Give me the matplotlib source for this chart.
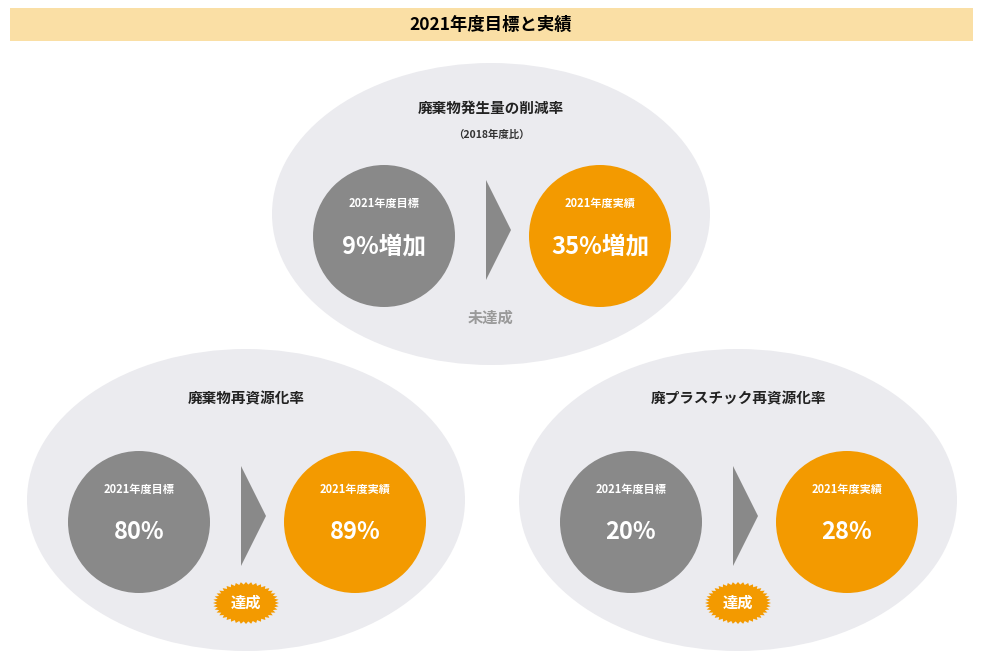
import numpy as np
import matplotlib
matplotlib.use("Agg")
import matplotlib.pyplot as plt
from matplotlib.patches import Ellipse, Circle, Rectangle, Polygon

FONT = "Noto Sans CJK JP"
title = "2021年度目標と実績"
panel_titles = ["廃棄物発生量の削減率", "廃棄物再資源化率", "廃プラスチック再資源化率"]
panel_sub = ["（2018年度比）", "", ""]
targets = ["9%増加", "80%", "20%"]
results = ["35%増加", "89%", "28%"]
status = ["未達成", "達成", "達成"]
label_target = "2021年度目標"
label_result = "2021年度実績"

GRAY = "#898989"
ORANGE = "#F39A00"
BG = "#EBEBEF"

fig = plt.figure(figsize=(9.82, 6.62), dpi=100)
ax = fig.add_axes([0, 0, 1, 1])
ax.set_xlim(0, 982); ax.set_ylim(662, 0); ax.axis("off")

ax.add_patch(Rectangle((10, 8), 963, 33, color="#FADFA5", lw=0))
ax.text(491, 25, title, ha="center", va="center", fontsize=12.5, fontweight="bold", family=FONT)

centers = [(491, 214), (246, 500), (738, 500)]
for i, (cx, cy) in enumerate(centers):
    ax.add_patch(Ellipse((cx, cy), 438, 302, color=BG, lw=0))
    ty = cy - 104
    if panel_sub[i]:
        ty = cy - 106
        ax.text(cx, cy - 79, panel_sub[i], ha="center", va="center", fontsize=7.5, fontweight="bold", family=FONT, color="#333")
    else:
        ty = cy - 102
    ax.text(cx, ty, panel_titles[i], ha="center", va="center", fontsize=10.5, fontweight="bold", family=FONT, color="#222")
    ccy = cy + 22
    for dx, col, lab, val in [(-107, GRAY, label_target, targets[i]), (109, ORANGE, label_result, results[i])]:
        ax.add_patch(Circle((cx + dx, ccy), 71, color=col, lw=0))
        ax.text(cx + dx, ccy - 33, lab, ha="center", va="center", fontsize=8, fontweight="bold", family=FONT, color="white")
        ax.text(cx + dx, ccy + 10, val, ha="center", va="center", fontsize=17, fontweight="bold", family=FONT, color="white")
    ax.add_patch(Polygon([(cx - 5, ccy - 56), (cx + 20, ccy - 6), (cx - 5, ccy + 44)], color=GRAY, lw=0))
    if status[i] == "未達成":
        ax.text(cx, cy + 104, status[i], ha="center", va="center", fontsize=11, fontweight="bold", family=FONT, color="#9a9a9a")
    else:
        bx, by = cx, cy + 103
        n = 40
        ang = np.linspace(0, 2 * np.pi, 2 * n, endpoint=False)
        r = np.where(np.arange(2 * n) % 2 == 0, 1.0, 0.88)
        pts = np.column_stack([bx + 33 * r * np.cos(ang), by + 21 * r * np.sin(ang)])
        ax.add_patch(Polygon(pts, color=ORANGE, lw=0))
        ax.text(bx, by, status[i], ha="center", va="center", fontsize=11, fontweight="bold", family=FONT, color="white")

fig.savefig("out.png", dpi=100)
